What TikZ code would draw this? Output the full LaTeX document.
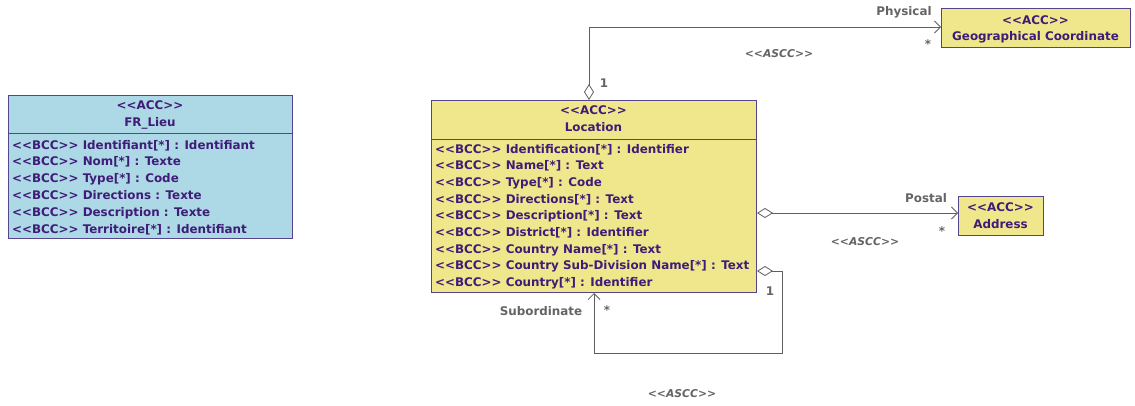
\documentclass[tikz,border=0pt]{standalone}
\usepackage{fontspec}
\setmainfont{DejaVu Sans}[Ligatures=TeXOff]
\usetikzlibrary{arrows.meta,calc}
\definecolor{txtc}{RGB}{63,28,120}
\definecolor{brd}{RGB}{85,70,140}
\definecolor{bluef}{RGB}{173,216,230}
\definecolor{yelf}{RGB}{240,230,140}
\definecolor{grayt}{RGB}{100,100,100}
\definecolor{lnc}{RGB}{95,95,95}
\tikzset{
  box/.style={draw=brd, line width=1pt, anchor=north west, inner sep=0pt},
  hdr/.style={text=txtc, font=\fontsize{11.9pt}{13pt}\bfseries, inner sep=0pt, anchor=base},
  attr/.style={text=txtc, font=\fontsize{11.9pt}{13pt}\bfseries, inner sep=0pt, anchor=base west},
  lbl/.style={text=grayt, font=\fontsize{11.9pt}{13pt}\bfseries, inner sep=0pt, anchor=base},
  ascc/.style={text=grayt, font=\fontsize{10.8pt}{13pt}\bfseries\itshape, inner sep=0pt, anchor=base},
  assoc/.style={draw=lnc, line width=0.8pt, {Diamond[open,length=16pt,width=10pt]}-{Straight Barb[length=6pt,width=12pt]}},
}
\begin{document}
\begin{tikzpicture}[x=1pt,y=1pt]
\useasboundingbox (0,0) rectangle (1135,-405);
% FR_Lieu
\node[box, fill=bluef, minimum width=284pt, minimum height=143pt] (fr) at (8,-95) {};
\draw[brd, line width=1pt] (8,-133) -- (292,-133);
\node[hdr] (frs) at (150,-109) {<<ACC>>};
\node[hdr] (frn) at (150,-126) {FR\_Lieu};
\node[attr] (fr1) at (12,-149) {<<BCC>> Identifiant[*] : Identifiant};
\node[attr] (fr2) at (12,-165.8) {<<BCC>> Nom[*] : Texte};
\node[attr] (fr3) at (12,-182.6) {<<BCC>> Type[*] : Code};
\node[attr] (fr4) at (12,-199.4) {<<BCC>> Directions : Texte};
\node[attr] (fr5) at (12,-216.2) {<<BCC>> Description : Texte};
\node[attr] (fr6) at (12,-233) {<<BCC>> Territoire[*] : Identifiant};
% Location
\node[box, fill=yelf, minimum width=325pt, minimum height=192pt] (loc) at (431,-100) {};
\draw[brd, line width=1pt] (431,-139) -- (756,-139);
\node[hdr] (locs) at (593.5,-114) {<<ACC>>};
\node[hdr] (locn) at (593.5,-131) {Location};
\node[attr] (l1) at (435,-153) {<<BCC>> Identification[*] : Identifier};
\node[attr] (l2) at (435,-169.7) {<<BCC>> Name[*] : Text};
\node[attr] (l3) at (435,-186.4) {<<BCC>> Type[*] : Code};
\node[attr] (l4) at (435,-203.1) {<<BCC>> Directions[*] : Text};
\node[attr] (l5) at (435,-219.8) {<<BCC>> Description[*] : Text};
\node[attr] (l6) at (435,-236.5) {<<BCC>> District[*] : Identifier};
\node[attr] (l7) at (435,-253.2) {<<BCC>> Country Name[*] : Text};
\node[attr] (l8) at (435,-269.9) {<<BCC>> Country Sub-Division Name[*] : Text};
\node[attr] (l9) at (435,-286.6) {<<BCC>> Country[*] : Identifier};
% Geographical Coordinate
\node[box, fill=yelf, minimum width=189pt, minimum height=39pt] (geo) at (941,-8) {};
\node[hdr] (geos) at (1035.5,-24) {<<ACC>>};
\node[hdr] (geon) at (1035.5,-40) {Geographical Coordinate};
% Address
\node[box, fill=yelf, minimum width=85pt, minimum height=39pt] (addr) at (958,-196) {};
\node[hdr] (adds) at (1000.5,-211) {<<ACC>>};
\node[hdr] (addn) at (1000.5,-228) {Address};
% Physical
\coordinate (pA) at ($(loc.north west)+(158,0)$);
\coordinate (pB) at ($(geo.north west)+(0,-19)$);
\draw[assoc] (pA) -- (pA |- pB) -- (pB);
\node[lbl] (phy) at (904,-15) {Physical};
\node[lbl] (phs) at (928,-48) {*};
\node[lbl] (ph1) at (604,-87) {1};
\node[ascc] (pha) at (779,-57) {<<ASCC>>};
% Postal
\coordinate (sA) at ($(loc.north east)+(0,-113)$);
\draw[assoc] (sA) -- (sA -| addr.west);
\node[lbl] (pos) at (926,-202) {Postal};
\node[lbl] (poss) at (942,-235) {*};
\node[ascc] (posa) at (865,-245) {<<ASCC>>};
% Subordinate
\coordinate (uA) at ($(loc.north east)+(0,-171)$);
\coordinate (uB) at (782,-353);
\draw[assoc] (uA) -- (uA -| uB) -- (uB) -- (uB -| loc.south) -- (loc.south);
\node[lbl] (sub1) at (770,-295) {1};
\node[lbl] (subs) at (607,-314) {*};
\node[lbl] (sub) at (541,-315) {Subordinate};
\node[ascc] (suba) at (682,-397) {<<ASCC>>};
\end{tikzpicture}
\end{document}
